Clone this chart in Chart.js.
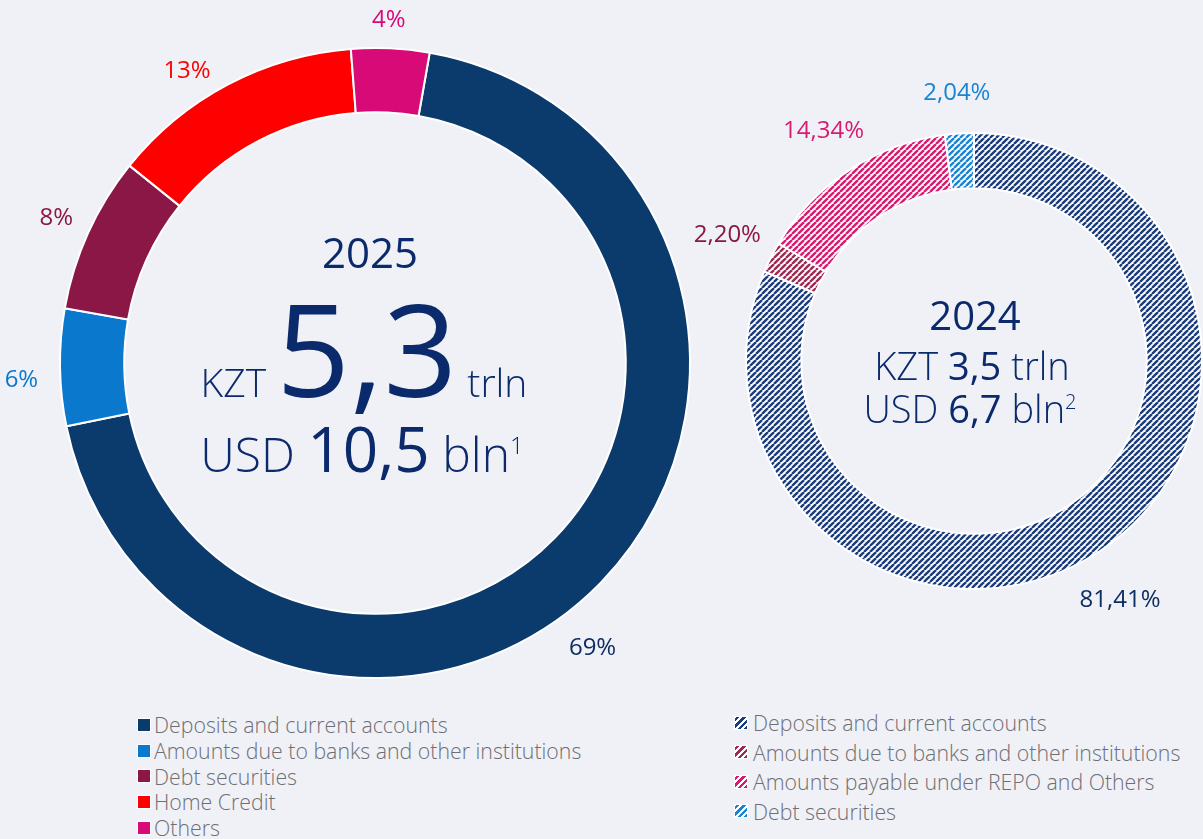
<!DOCTYPE html>
<html>
<head>
<meta charset="utf-8">
<script src="https://cdn.jsdelivr.net/npm/chart.js@4"></script>
<style>
  body { margin: 0; background: #eff1f7; font-family: "Open Sans", sans-serif; }
  #wrap { position: relative; width: 1203px; height: 839px; overflow: hidden; }
  canvas { position: absolute; left: 0; top: 0; }
  .legend { position: absolute; margin: 0; padding: 0; list-style: none; }
  .legend li { font-size: 21.3px; font-weight: 300; color: #6e6e73; white-space: nowrap; display: flex; align-items: center; }
  .legend .box { width: 12px; height: 12px; border: 1px solid #fff; margin-right: 3px; flex: none; }
  #legend2024 .box { margin-right: 5px; }
</style>
</head>
<body>
<div id="wrap">
  <canvas id="chart2025" width="1203" height="700"></canvas>
  <canvas id="chart2024" width="1203" height="700"></canvas>
  <ul class="legend" id="legend2025" style="left:137px; top:712px;"></ul>
  <ul class="legend" id="legend2024" style="left:734px; top:708px;"></ul>
</div>
<script>
const labels2025 = ['Deposits and current accounts', 'Amounts due to banks and other institutions', 'Debt securities', 'Home Credit', 'Others'];
const values2025 = [69, 6, 8, 13, 4];
const colors2025 = ['#0b3a6c', '#0a78cc', '#8a1746', '#ff0000', '#d80a78'];
const textColors2025 = ['#0d2d63', '#0a78cc', '#8a1746', '#ff0000', '#d80a78'];

const labels2024 = ['Deposits and current accounts', 'Amounts due to banks and other institutions', 'Amounts payable under REPO and Others', 'Debt securities'];
const values2024 = [81.41, 2.20, 14.34, 2.04];
const colors2024 = ['#1b3c7c', '#9c2a52', '#d81b72', '#1a84d4'];
const textColors2024 = ['#0d2d63', '#8a1746', '#d81b72', '#1a84d4'];

const navy = '#0b2a6b';
const light = '300 ';

// diagonal stripes on white, like the 2024 ring
function makeStripes(color) {
    const c = document.createElement('canvas');
    c.width = 6; c.height = 6;
    const g = c.getContext('2d');
    g.fillStyle = '#ffffff';
    g.fillRect(0, 0, 6, 6);
    g.strokeStyle = color;
    g.lineWidth = 2.4;
    [-6, 0, 6].forEach(k => {
        g.beginPath();
        g.moveTo(k, 6);
        g.lineTo(k + 6, 0);
        g.stroke();
    });
    return c;
}

function drawRuns(ctx, runs, cx, baseline) {
    let total = 0;
    runs.forEach(r => { ctx.font = r.font; r.w = ctx.measureText(r.text).width; total += r.w; });
    let x = cx - total / 2;
    ctx.textAlign = 'left';
    ctx.textBaseline = 'alphabetic';
    runs.forEach(r => {
        ctx.font = r.font;
        ctx.fillStyle = navy;
        ctx.fillText(r.text, x, baseline - (r.rise || 0));
        x += r.w;
    });
}

const ringText = {
    id: 'ringText',
    afterDatasetsDraw(chart, args, opts) {
        const ctx = chart.ctx;
        const meta = chart.getDatasetMeta(0);
        const ds = chart.data.datasets[0];
        ctx.save();
        meta.data.forEach((arc, i) => {
            const p = arc.getProps(['x', 'y', 'startAngle', 'endAngle', 'outerRadius'], true);
            const a = (p.startAngle + p.endAngle) / 2 + (opts.shifts[i] || 0) * Math.PI / 180;
            const r = p.outerRadius + opts.offset + (opts.extra[i] || 0);
            ctx.font = '400 24px "Open Sans"';
            ctx.fillStyle = opts.textColors[i];
            ctx.textAlign = 'center';
            ctx.textBaseline = 'middle';
            ctx.fillText(opts.format(ds.data[i]), p.x + Math.cos(a) * r, p.y + Math.sin(a) * r);
        });
        const c = meta.data[0];
        opts.lines.forEach(line => drawRuns(ctx, line.runs, c.x + line.dx, c.y + line.dy));
        ctx.restore();
    }
};

function makeChart(id, labels, values, colors, rotation, padding, cutout, radius, textOpts) {
    return new Chart(document.getElementById(id), {
        type: 'doughnut',
        data: {
            labels: labels,
            datasets: [{
                data: values,
                backgroundColor: colors,
                borderColor: '#ffffff',
                borderWidth: 2
            }]
        },
        options: {
            responsive: false,
            animation: false,
            events: [],
            rotation: rotation,
            cutout: cutout,
            radius: radius,
            layout: { padding: padding },
            plugins: {
                legend: { display: false },
                tooltip: { enabled: false },
                ringText: textOpts
            }
        },
        plugins: [ringText]
    });
}

makeChart('chart2025', labels2025, values2025, colors2025, 10,
    { left: 60, right: 513, top: 48, bottom: 22 }, 250, 315, {
    offset: 30,
    extra: [14, 9, 5, 2, -2],
    shifts: [8.5, -2, 0, -5, -0.5],
    textColors: textColors2025,
    format: v => v + '%',
    lines: [
        { dx: -5, dy: -95, runs: [{ text: '2025', font: '400 42px "Open Sans"' }] },
        { dx: -11, dy: 34, runs: [
            { text: 'KZT ', font: light + '39px "Open Sans"' },
            { text: '5,3', font: '400 129px "Open Sans"' },
            { text: ' trln', font: light + '39px "Open Sans"' }] },
        { dx: -13, dy: 109, runs: [
            { text: 'USD ', font: light + '48px "Open Sans"' },
            { text: '10,5', font: '400 62px "Open Sans"' },
            { text: ' bln', font: light + '48px "Open Sans"' },
            { text: '1', font: light + '24px "Open Sans"', rise: 18 }] }
    ]
});

makeChart('chart2024', labels2024, values2024, colors2024.map(makeStripes).map(c => document.getElementById('chart2024').getContext('2d').createPattern(c, 'repeat')), 0,
    { left: 746, right: 1, top: 133, bottom: 111 }, 172, 228, {
    offset: 44,
    extra: [8, 5, 3, -4],
    shifts: [2, 0, 0, 0],
    textColors: textColors2024,
    format: v => v.toFixed(2).replace('.', ',') + '%',
    lines: [
        { dx: 1, dy: -31, runs: [{ text: '2024', font: '400 40px "Open Sans"' }] },
        { dx: -2, dy: 19, runs: [
            { text: 'KZT ', font: light + '38px "Open Sans"' },
            { text: '3,5', font: '400 38px "Open Sans"' },
            { text: ' trln', font: light + '38px "Open Sans"' }] },
        { dx: -4, dy: 62, runs: [
            { text: 'USD ', font: light + '38px "Open Sans"' },
            { text: '6,7', font: '400 38px "Open Sans"' },
            { text: ' bln', font: light + '38px "Open Sans"' },
            { text: '2', font: light + '20px "Open Sans"', rise: 14 }] }
    ]
});

// html legends from the same arrays
function makeLegend(id, labels, colors, striped, rowHeight) {
    const ul = document.getElementById(id);
    labels.forEach((label, i) => {
        const li = document.createElement('li');
        li.style.height = rowHeight + 'px';
        const box = document.createElement('span');
        box.className = 'box';
        box.style.background = striped
            ? 'repeating-linear-gradient(-45deg, ' + colors[i] + ' 0 2.5px, #fff 2.5px 4.5px)'
            : colors[i];
        li.appendChild(box);
        li.appendChild(document.createTextNode(label));
        ul.appendChild(li);
    });
}
makeLegend('legend2025', labels2025, colors2025, false, 25.7);
makeLegend('legend2024', labels2024, colors2024, true, 29.5);
</script>
</body>
</html>
